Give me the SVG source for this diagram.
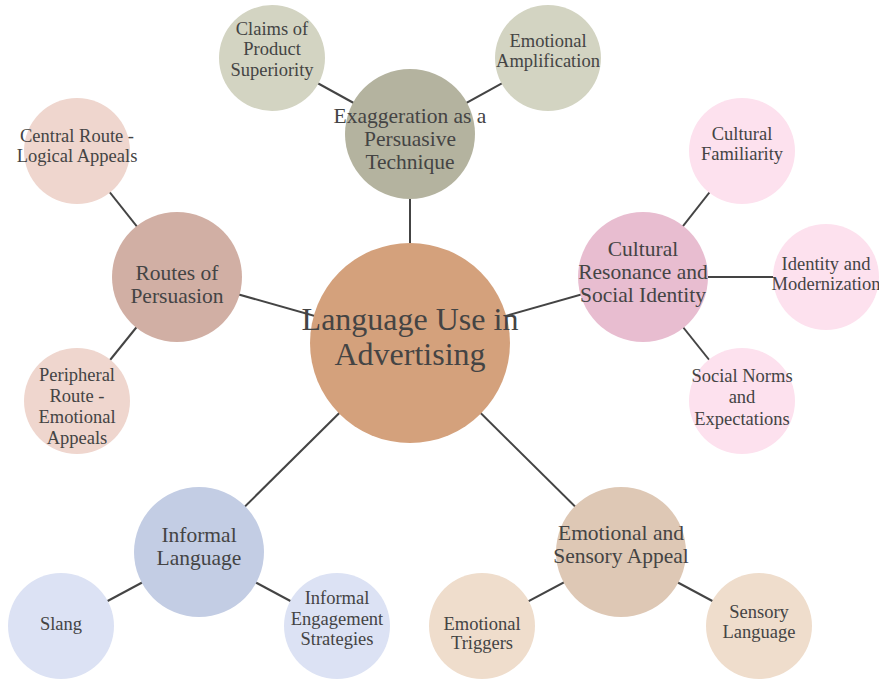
<svg xmlns="http://www.w3.org/2000/svg" width="879" height="680" viewBox="0 0 879 680">
  <style>
    text { font-family: "Liberation Serif", "Times New Roman", serif; fill: #444; text-anchor: middle; }
    .root text { font-size: 32px; }
    .mid text { font-size: 21.5px; }
    .leaf text { font-size: 18.5px; }
    .edge { stroke: #444; stroke-width: 2; fill: none; }
  </style>
  <rect width="879" height="680" fill="#fff"/>

  <!-- connectors: drawn centre to centre, circles sit on top -->
  <g id="connectors">
    <line class="edge" x1="410" y1="343" x2="410" y2="134"/>
    <line class="edge" x1="410" y1="343" x2="177" y2="277"/>
    <line class="edge" x1="410" y1="343" x2="643" y2="277"/>
    <line class="edge" x1="410" y1="343" x2="199" y2="552"/>
    <line class="edge" x1="410" y1="343" x2="621" y2="552"/>
    <line class="edge" x1="410" y1="134" x2="272" y2="58"/>
    <line class="edge" x1="410" y1="134" x2="548" y2="58"/>
    <line class="edge" x1="177" y1="277" x2="77" y2="151"/>
    <line class="edge" x1="177" y1="277" x2="77" y2="401"/>
    <line class="edge" x1="643" y1="277" x2="742" y2="151"/>
    <line class="edge" x1="643" y1="277" x2="826" y2="277"/>
    <line class="edge" x1="643" y1="277" x2="742" y2="401"/>
    <line class="edge" x1="199" y1="552" x2="61" y2="626"/>
    <line class="edge" x1="199" y1="552" x2="337" y2="626"/>
    <line class="edge" x1="621" y1="552" x2="482" y2="626"/>
    <line class="edge" x1="621" y1="552" x2="759" y2="626"/>
  </g>

  <!-- root -->
  <g id="language-use" class="root">
    <circle cx="410" cy="343" r="100" fill="#D4A17C"/>
    <text x="410" y="330">Language Use in</text>
    <text x="410" y="365">Advertising</text>
  </g>

  <!-- exaggeration branch -->
  <g id="exaggeration" class="mid">
    <circle cx="410" cy="134" r="65" fill="#B4B39F"/>
    <text x="410" y="123">Exaggeration as a</text>
    <text x="410" y="146">Persuasive</text>
    <text x="410" y="169">Technique</text>
  </g>
  <g id="claims-superiority" class="leaf">
    <circle cx="272" cy="58" r="53" fill="#D3D4C2"/>
    <text x="272" y="35">Claims of</text>
    <text x="272" y="55">Product</text>
    <text x="272" y="76">Superiority</text>
  </g>
  <g id="emotional-amplification" class="leaf">
    <circle cx="548" cy="58" r="53" fill="#D3D4C2"/>
    <text x="548" y="47">Emotional</text>
    <text x="548" y="67">Amplification</text>
  </g>

  <!-- routes branch -->
  <g id="routes" class="mid">
    <circle cx="177" cy="277" r="65" fill="#D1AFA4"/>
    <text x="177" y="280">Routes of</text>
    <text x="177" y="303">Persuasion</text>
  </g>
  <g id="central-route" class="leaf">
    <circle cx="77" cy="151" r="53" fill="#EFD6CE"/>
    <text x="77" y="142">Central Route -</text>
    <text x="77" y="162">Logical Appeals</text>
  </g>
  <g id="peripheral-route" class="leaf">
    <circle cx="77" cy="401" r="53" fill="#EFD6CE"/>
    <text x="77" y="381">Peripheral</text>
    <text x="77" y="402">Route -</text>
    <text x="77" y="423">Emotional</text>
    <text x="77" y="444">Appeals</text>
  </g>

  <!-- cultural branch -->
  <g id="cultural-resonance" class="mid">
    <circle cx="643" cy="277" r="65" fill="#E8BDD0"/>
    <text x="643" y="256">Cultural</text>
    <text x="643" y="279">Resonance and</text>
    <text x="643" y="302">Social Identity</text>
  </g>
  <g id="cultural-familiarity" class="leaf">
    <circle cx="742" cy="151" r="53" fill="#FDE1EE"/>
    <text x="742" y="140">Cultural</text>
    <text x="742" y="160">Familiarity</text>
  </g>
  <g id="identity-modernization" class="leaf">
    <circle cx="826" cy="277" r="53" fill="#FDE1EE"/>
    <text x="826" y="270">Identity and</text>
    <text x="826" y="290">Modernization</text>
  </g>
  <g id="social-norms" class="leaf">
    <circle cx="742" cy="401" r="53" fill="#FDE1EE"/>
    <text x="742" y="382">Social Norms</text>
    <text x="742" y="403">and</text>
    <text x="742" y="425">Expectations</text>
  </g>

  <!-- informal branch -->
  <g id="informal-language" class="mid">
    <circle cx="199" cy="552" r="65" fill="#C3CDE4"/>
    <text x="199" y="542">Informal</text>
    <text x="199" y="565">Language</text>
  </g>
  <g id="slang" class="leaf">
    <circle cx="61" cy="626" r="53" fill="#DCE2F4"/>
    <text x="61" y="630">Slang</text>
  </g>
  <g id="informal-engagement" class="leaf">
    <circle cx="337" cy="626" r="53" fill="#DCE2F4"/>
    <text x="337" y="604">Informal</text>
    <text x="337" y="625">Engagement</text>
    <text x="337" y="645">Strategies</text>
  </g>

  <!-- emotional / sensory branch -->
  <g id="emotional-sensory" class="mid">
    <circle cx="621" cy="552" r="65" fill="#DEC8B5"/>
    <text x="621" y="540">Emotional and</text>
    <text x="621" y="563">Sensory Appeal</text>
  </g>
  <g id="emotional-triggers" class="leaf">
    <circle cx="482" cy="626" r="53" fill="#EFDDCC"/>
    <text x="482" y="630">Emotional</text>
    <text x="482" y="649">Triggers</text>
  </g>
  <g id="sensory-language" class="leaf">
    <circle cx="759" cy="626" r="53" fill="#EFDDCC"/>
    <text x="759" y="618">Sensory</text>
    <text x="759" y="638">Language</text>
  </g>
</svg>
